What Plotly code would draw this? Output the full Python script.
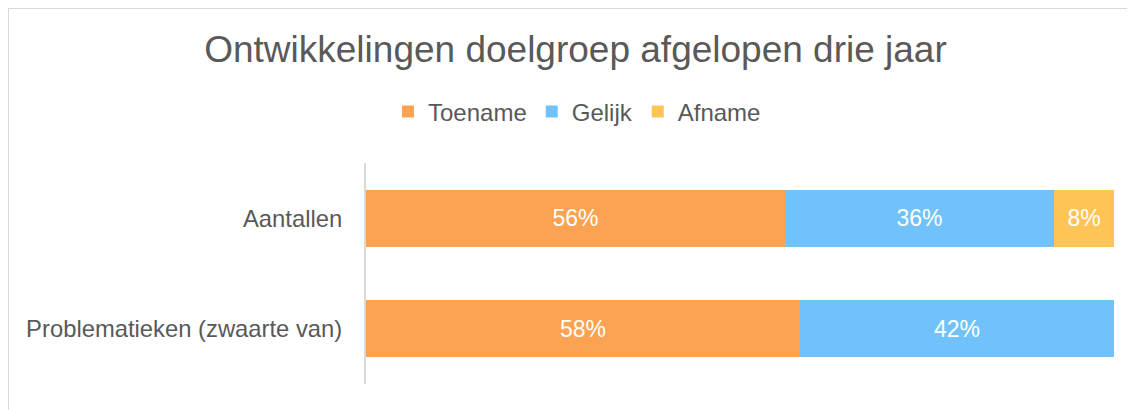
import plotly.graph_objects as go

categories = ["Aantallen", "Problematieken (zwaarte van)"]
series_names = ["Toename", "Gelijk", "Afname"]
toename = [56, 58]
gelijk = [36, 42]
afname = [8, 0]
colors = ["#FBA352", "#71C2FA", "#FFC456"]

# page body adds an 8px margin, so the figure is shifted by 8px
OFF = 8
W, H = 1135 - OFF, 410 - OFF
L, R, T, B = 366 - OFF, 21, 163 - OFF, 26
pw, ph = W - L - R, H - T - B

FONT = "Liberation Sans, Arial, sans-serif"

fig = go.Figure()
for name, vals, col in zip(series_names, [toename, gelijk, afname], colors):
    fig.add_trace(go.Bar(
        y=categories, x=vals, name=name, orientation="h",
        marker=dict(color=col, line=dict(width=0)),
        text=[f"{v}%" if v else "" for v in vals],
        textposition="inside", insidetextanchor="middle",
        textfont=dict(color="white", size=23, family=FONT),
        hoverinfo="skip",
    ))

fig.update_layout(
    width=W, height=H, autosize=False,
    barmode="stack", bargap=0.484,
    margin=dict(l=L, r=R, t=T, b=B),
    paper_bgcolor="white", plot_bgcolor="white",
    font=dict(family=FONT, color="#595959", size=23),
    title=dict(text="Ontwikkelingen doelgroep afgelopen drie jaar",
               xref="container", x=(575.5 - OFF) / W, xanchor="center",
               yref="container", y=1 - (49 - OFF) / H, yanchor="middle",
               font=dict(size=37, color="#595959", family=FONT)),
    legend=dict(orientation="h", xanchor="center", x=(577 - OFF - L) / pw,
                yanchor="middle", y=(H - B - (112 - OFF)) / ph,
                font=dict(size=24, color="#595959", family=FONT), traceorder="normal",
                itemwidth=30),
    showlegend=True,
)
fig.update_xaxes(range=[0, 100], visible=False, fixedrange=True)
fig.update_yaxes(categoryorder="array", categoryarray=categories, autorange="reversed",
                 showline=True, linecolor="#D9D9D9", linewidth=2, ticks="",
                 ticklabelstandoff=17, showgrid=False, zeroline=False,
                 tickfont=dict(size=23.8, color="#595959", family=FONT))

# chart frame
fig.add_shape(type="rect", xref="paper", yref="paper",
              x0=(0.5 - L) / pw, x1=(W + 20 - L) / pw,
              y0=(H - B - 0.5) / ph, y1=(H - B - (H + 20)) / ph,
              line=dict(color="#D9D9D9", width=1), fillcolor="rgba(0,0,0,0)", layer="below")

fig.write_html("out.html")
